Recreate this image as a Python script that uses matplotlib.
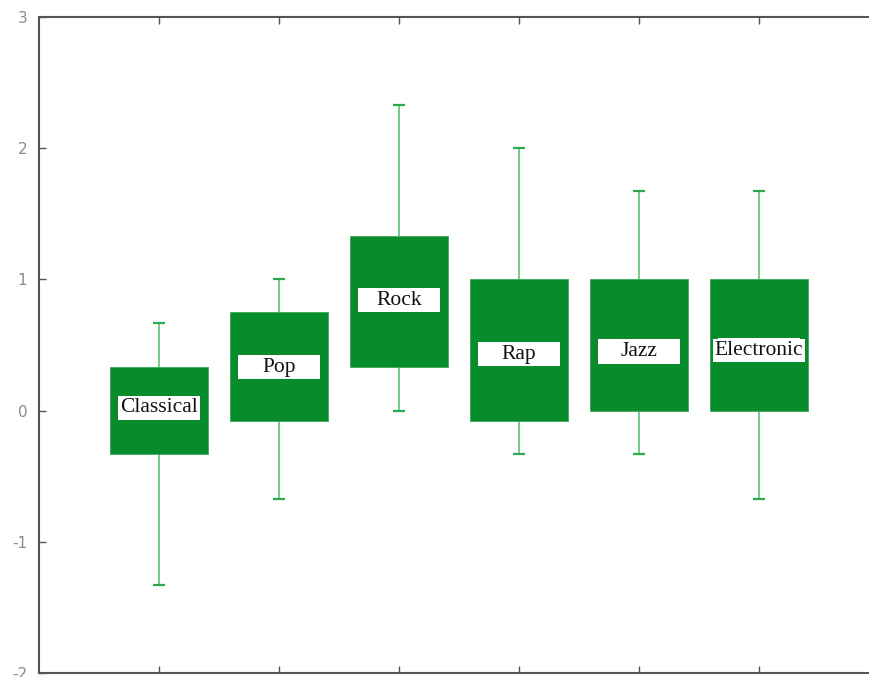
"""Box chart of scores by music genre."""

import matplotlib

matplotlib.use("Agg")

import matplotlib.pyplot as plt
from matplotlib.patches import Rectangle

genres = ["Classical", "Pop", "Rock", "Rap", "Jazz", "Electronic"]
q1 = [-0.33, -0.08, 0.33, -0.08, 0.0, 0.0]
q3 = [0.33, 0.75, 1.33, 1.0, 1.0, 1.0]
whisker_low = [-1.33, -0.67, 0.0, -0.33, -0.33, -0.67]
whisker_high = [0.67, 1.0, 2.33, 2.0, 1.67, 1.67]
label_y = [0.02, 0.33, 0.84, 0.43, 0.45, 0.46]
y_ticks = [-2, -1, 0, 1, 2, 3]

BOX_GREEN = "#078b2b"
WHISKER_GREEN = "#52bb6e"
CAP_GREEN = "#2ea84e"
SPINE_GREY = "#555555"


def main() -> None:
    fig = plt.figure(figsize=(8.69, 6.77), dpi=100)
    # axes run past the right edge, as in the reference crop
    ax = fig.add_axes([39 / 869, 4 / 677, 840 / 869, 656 / 677])
    positions = list(range(1, len(genres) + 1))

    heights = [hi - lo for lo, hi in zip(q1, q3)]
    ax.bar(positions, heights, bottom=q1, width=0.81, color=BOX_GREEN,
           edgecolor="#3aa85a", linewidth=0.6, zorder=3)

    ax.vlines(positions, whisker_low, q1, color=WHISKER_GREEN, linewidth=1.1, zorder=2)
    ax.vlines(positions, q3, whisker_high, color=WHISKER_GREEN, linewidth=1.1, zorder=2)
    ax.hlines(whisker_low, [p - 0.05 for p in positions], [p + 0.05 for p in positions],
              color=CAP_GREEN, linewidth=1.6, zorder=2)
    ax.hlines(whisker_high, [p - 0.05 for p in positions], [p + 0.05 for p in positions],
              color=CAP_GREEN, linewidth=1.6, zorder=2)

    for pos, name, y in zip(positions, genres, label_y):
        ax.add_patch(Rectangle((pos - 0.34, y - 0.092), 0.68, 0.184,
                               facecolor="white", edgecolor="none", zorder=4))
        ax.text(pos, y, name, ha="center", va="center", fontsize=15.5,
                family="Liberation Serif", color="#111111", zorder=5,
                bbox=dict(facecolor="white", edgecolor="none", pad=1.5))

    ax.set_xlim(0, 7)
    ax.set_ylim(-2, 3)
    ax.set_xticks(positions)
    ax.set_xticklabels([])
    ax.set_yticks(y_ticks)
    ax.set_yticklabels([str(t) for t in y_ticks])
    ax.tick_params(axis="both", direction="in", length=5, width=1.0,
                   color=SPINE_GREY, labelcolor="#8a8a8a", labelsize=11,
                   top=True, bottom=True, pad=8.5)
    for spine in ax.spines.values():
        spine.set_color(SPINE_GREY)
        spine.set_linewidth(1.5)

    fig.savefig("out.png", dpi=100)
    plt.close(fig)


if __name__ == "__main__":
    main()
